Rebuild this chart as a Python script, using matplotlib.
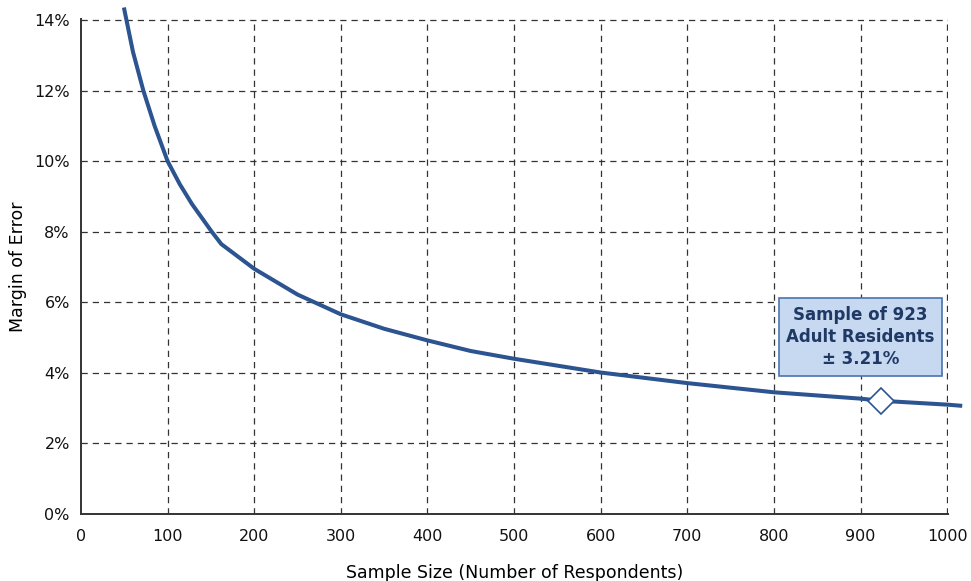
import matplotlib
matplotlib.use('Agg')
import matplotlib.pyplot as plt
from matplotlib.ticker import FuncFormatter

plt.rcParams['font.family'] = ['DejaVu Sans']

# sample sizes and margins of error (%)
sample_size = [50, 60, 72, 85, 100, 114, 128, 151, 162, 200, 250, 300, 350,
               400, 450, 500, 600, 700, 800, 900, 923, 1000, 1015]
margin_pct = [14.3, 13.1, 12.0, 11.0, 10.0, 9.35, 8.79, 8.0, 7.65, 6.95, 6.22,
              5.66, 5.25, 4.92, 4.62, 4.4, 4.01, 3.71, 3.45, 3.27, 3.21, 3.1, 3.07]

marker_n = 923
marker_moe = 3.21
note_text = 'Sample of 923\nAdult Residents\n\u00b1 3.21%'

fig = plt.figure(figsize=(9.71, 5.81), dpi=100)
ax = fig.add_axes([0.0834, 0.1153, 0.893, 0.852])

ax.plot(sample_size, margin_pct, color='#2c5491', lw=2.9, clip_on=False, zorder=3)
ax.plot([marker_n], [marker_moe], marker='D', ms=13, mfc='white', mec='#2c5491',
        mew=1.2, zorder=4, clip_on=False)

ax.set_xlim(0, 1001)
ax.set_ylim(0, 14.03)
ax.set_xticks(range(0, 1001, 100))
ax.set_yticks(range(0, 15, 2))
ax.yaxis.set_major_formatter(FuncFormatter(lambda v, p: '%d%%' % v))

ax.grid(True, color='#333333', ls=(0, (5, 4)), lw=0.9)
# hide the gridlines that sit on the spines
ax.get_xgridlines()[0].set_visible(False)
ax.get_ygridlines()[0].set_visible(False)
for s in ['top', 'right']:
    ax.spines[s].set_visible(False)
for s in ['left', 'bottom']:
    ax.spines[s].set_color('#333333')
    ax.spines[s].set_linewidth(1.4)
    ax.spines[s].set_zorder(3.5)
ax.tick_params(length=0, labelsize=11.5, colors='#111111')
ax.tick_params(axis='x', pad=11)
ax.tick_params(axis='y', pad=8)

ax.set_xlabel('Sample Size (Number of Respondents)', fontsize=12.5, labelpad=14)
ax.set_ylabel('Margin of Error', fontsize=12.5, labelpad=5)

ax.text(900, 5.02, note_text, ha='center', va='center', fontsize=12,
        fontweight='bold', color='#1f3864', linespacing=1.3, zorder=5,
        bbox=dict(boxstyle='square,pad=0.45', fc='#c6d9f0', ec='#4a74b0', lw=1.2))

fig.savefig('out.png', dpi=100)
